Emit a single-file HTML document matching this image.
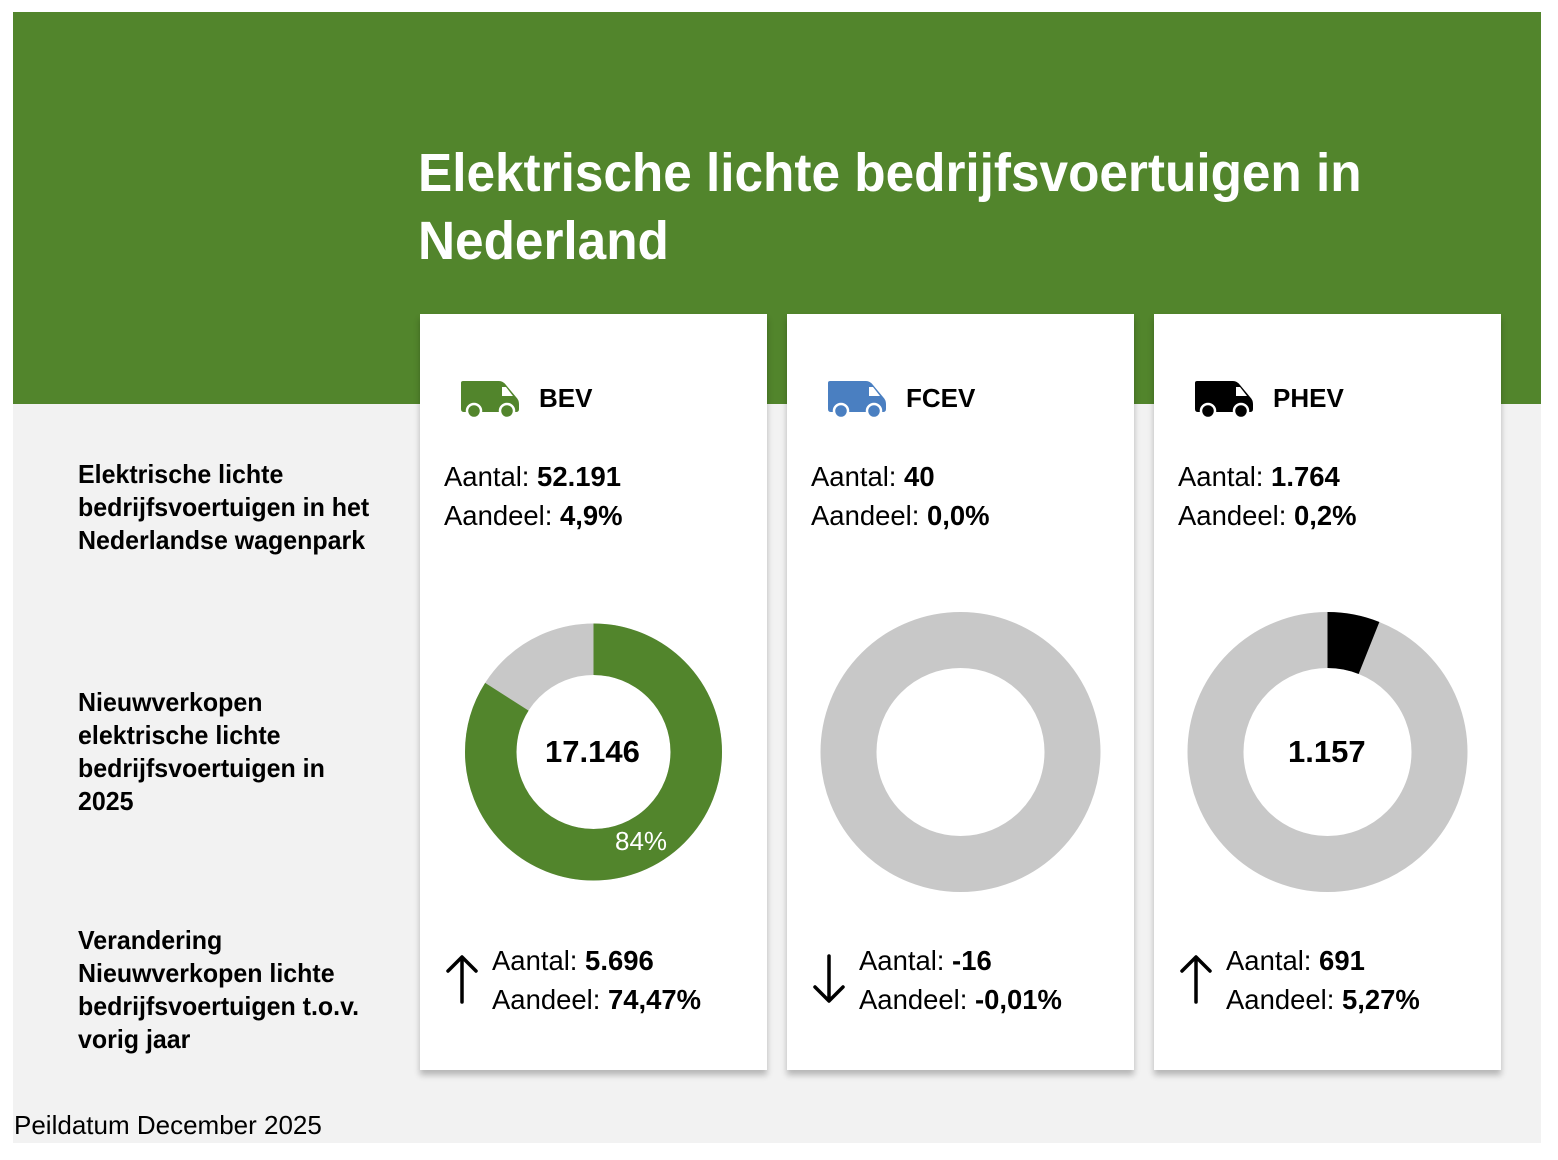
<!DOCTYPE html>
<html><head><meta charset="utf-8"><style>
*{margin:0;padding:0;box-sizing:border-box}
body{width:1558px;height:1160px;background:#fff;position:relative;overflow:hidden;font-family:"Liberation Sans",sans-serif;color:#000}
.a{position:absolute;white-space:nowrap}
.s{display:inline-block;transform:scaleX(.97);transform-origin:left top}
.card{position:absolute;top:314px;width:347px;height:756px;background:#fff;box-shadow:0 5px 6px rgba(0,0,0,.25)}
.lab{font-size:26px;font-weight:bold;line-height:33px;left:78px}
.num{font-size:28px;line-height:39px}
.num b{font-weight:bold}
.hd{font-size:26px;font-weight:bold}
</style></head><body>
<div class="a" style="left:13px;top:12px;width:1528px;height:392px;background:#52852c"></div>
<div class="a" style="left:13px;top:404px;width:1528px;height:739px;background:#f2f2f2"></div>
<div class="a" style="left:418px;top:139px;color:#fff;font-size:54px;font-weight:bold;line-height:68px"><span class="s" style="transform:scaleX(.95)">Elektrische lichte bedrijfsvoertuigen in<br>Nederland</span></div>

<div class="a lab" style="top:458px"><span class="s" style="transform:scaleX(.96)">Elektrische lichte<br>bedrijfsvoertuigen in het<br>Nederlandse wagenpark</span></div>
<div class="a lab" style="top:686px"><span class="s" style="transform:scaleX(.96)">Nieuwverkopen<br>elektrische lichte<br>bedrijfsvoertuigen in<br>2025</span></div>
<div class="a lab" style="top:924px"><span class="s" style="transform:scaleX(.96)">Verandering<br>Nieuwverkopen lichte<br>bedrijfsvoertuigen t.o.v.<br>vorig jaar</span></div>
<div class="a" style="left:14px;top:1110px;font-size:26px"><span class="s" style="transform:scaleX(1)">Peildatum December 2025</span></div>

<div class="card" style="left:420px"></div>
<div class="card" style="left:787px"></div>
<div class="card" style="left:1154px"></div>

<svg class="a" style="left:0;top:0" width="1558" height="1160">
<defs><g id="van"><path d="M2 0 H38 Q42 0 45 4 L55 16 Q58 19 58 23 V28 Q58 31 55 31 H3 Q0 31 0 28 V2 Q0 0 2 0Z"/><path d="M41 6 H45 L52 15 H41Z" fill="#fff"/><circle cx="13" cy="30" r="7" stroke="#fff" stroke-width="2.5"/><circle cx="46" cy="30" r="7" stroke="#fff" stroke-width="2.5"/></g></defs>
<use href="#van" x="461" y="381" fill="#52852c"/>
<use href="#van" x="828" y="381" fill="#4a7fc1"/>
<use href="#van" x="1195" y="381" fill="#000"/>
<circle cx="593.5" cy="752" r="102.75" fill="none" stroke="#c8c8c8" stroke-width="51.5"/>
<circle cx="593.5" cy="752" r="102.75" fill="none" stroke="#52852c" stroke-width="51.5" stroke-dasharray="542.3 700" transform="rotate(-90 593.5 752)"/>
<circle cx="960.5" cy="752" r="112" fill="none" stroke="#c8c8c8" stroke-width="56"/>
<circle cx="1327.5" cy="752" r="112" fill="none" stroke="#c8c8c8" stroke-width="56"/>
<circle cx="1327.5" cy="752" r="112" fill="none" stroke="#000" stroke-width="56" stroke-dasharray="42.5 800" transform="rotate(-90 1327.5 752)"/>
<g stroke="#000" stroke-width="3.5" fill="none" stroke-linecap="round" stroke-linejoin="round">
<path d="M462 1002 V958 M448 971 L462 957 L476 971"/>
<path d="M829 956 V1000 M815 987 L829 1001 L843 987"/>
<path d="M1196 1002 V958 M1182 971 L1196 957 L1210 971"/>
</g>
</svg>

<div class="a hd" style="left:539px;top:383px">BEV</div>
<div class="a hd" style="left:906px;top:383px">FCEV</div>
<div class="a hd" style="left:1273px;top:383px">PHEV</div>

<div class="a num" style="left:444px;top:457px"><span class="s" style="transform:scaleX(.98)">Aantal: <b>52.191</b><br>Aandeel: <b>4,9%</b></span></div>
<div class="a num" style="left:811px;top:457px"><span class="s" style="transform:scaleX(.98)">Aantal: <b>40</b><br>Aandeel: <b>0,0%</b></span></div>
<div class="a num" style="left:1178px;top:457px"><span class="s" style="transform:scaleX(.98)">Aantal: <b>1.764</b><br>Aandeel: <b>0,2%</b></span></div>

<div class="a" style="left:545px;top:734px;font-size:31px;font-weight:bold">17.146</div>
<div class="a" style="left:615px;top:826px;font-size:26px;color:#fff">84%</div>
<div class="a" style="left:1288px;top:734px;font-size:31px;font-weight:bold">1.157</div>

<div class="a num" style="left:492px;top:941px"><span class="s" style="transform:scaleX(.98)">Aantal: <b>5.696</b><br>Aandeel: <b>74,47%</b></span></div>
<div class="a num" style="left:859px;top:941px"><span class="s" style="transform:scaleX(.98)">Aantal: <b>-16</b><br>Aandeel: <b>-0,01%</b></span></div>
<div class="a num" style="left:1226px;top:941px"><span class="s" style="transform:scaleX(.98)">Aantal: <b>691</b><br>Aandeel: <b>5,27%</b></span></div>
</body></html>
